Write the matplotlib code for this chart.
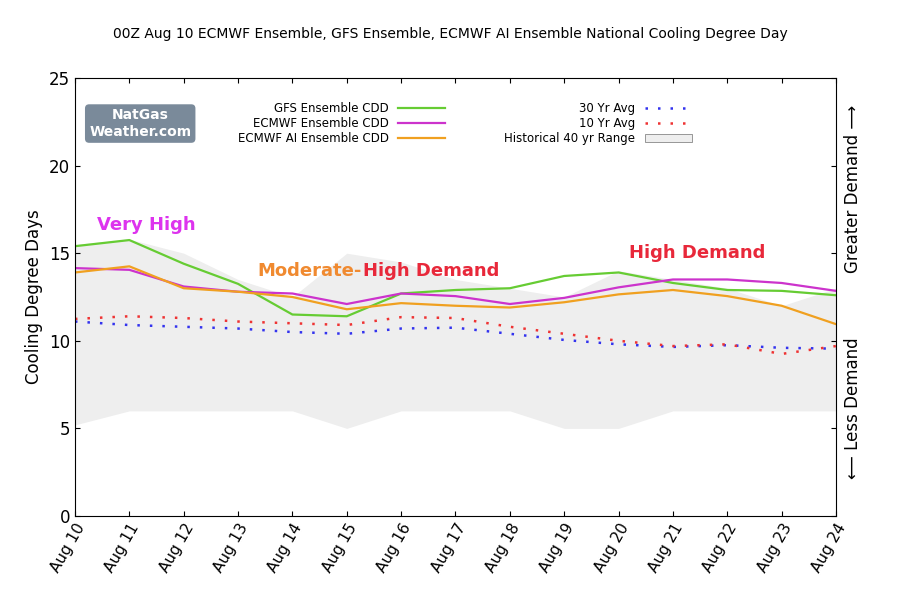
import matplotlib
matplotlib.use("Agg")
import matplotlib.pyplot as plt
import numpy as np
from matplotlib.patches import Patch

days = ["Aug 10", "Aug 11", "Aug 12", "Aug 13", "Aug 14", "Aug 15", "Aug 16", "Aug 17",
        "Aug 18", "Aug 19", "Aug 20", "Aug 21", "Aug 22", "Aug 23", "Aug 24"]
gfs = [15.4, 15.75, 14.4, 13.25, 11.5, 11.4, 12.7, 12.9, 13.0, 13.7, 13.9, 13.3, 12.9, 12.85, 12.6]
ecmwf = [14.15, 14.05, 13.1, 12.8, 12.7, 12.1, 12.7, 12.55, 12.1, 12.45, 13.05, 13.5, 13.5, 13.3, 12.85]
ai = [13.9, 14.25, 13.0, 12.8, 12.5, 11.8, 12.15, 12.0, 11.9, 12.2, 12.65, 12.9, 12.55, 12.0, 10.95]
avg30 = [11.1, 10.9, 10.8, 10.7, 10.5, 10.4, 10.7, 10.75, 10.4, 10.05, 9.8, 9.65, 9.75, 9.6, 9.55]
avg10 = [11.25, 11.4, 11.3, 11.1, 11.0, 10.9, 11.35, 11.3, 10.8, 10.4, 10.0, 9.7, 9.8, 9.25, 9.7]
hist_hi = [15.5, 15.8, 15.0, 13.5, 12.5, 15.0, 14.5, 13.5, 13.0, 12.5, 14.0, 13.5, 13.0, 12.0, 13.0]
hist_lo = [5.2, 6.0, 6.0, 6.0, 6.0, 5.0, 6.0, 6.0, 6.0, 5.0, 5.0, 6.0, 6.0, 6.0, 6.0]

x = np.arange(len(days))
fig = plt.figure(figsize=(9, 6), dpi=100)
ax = fig.add_axes([0.0833, 0.14, 0.8456, 0.73])

ax.fill_between(x, hist_lo, hist_hi, color="#eeeeee", lw=0)
l1, = ax.plot(x, gfs, color="#66cc33", lw=1.6, label="GFS Ensemble CDD")
l2, = ax.plot(x, ecmwf, color="#cc33cc", lw=1.6, label="ECMWF Ensemble CDD")
l3, = ax.plot(x, ai, color="#f0a020", lw=1.6, label="ECMWF AI Ensemble CDD")
l4, = ax.plot(x, avg30, color="#3333ee", lw=1.8, ls=(0, (1, 4)), label="30 Yr Avg")
l5, = ax.plot(x, avg10, color="#ee3333", lw=1.8, ls=(0, (1, 4)), label="10 Yr Avg")
hp = Patch(facecolor="#eeeeee", edgecolor="#888888", lw=0.6, label="Historical 40 yr Range")

leg1 = ax.legend(handles=[l1, l2, l3], loc="upper left", bbox_to_anchor=(0.2, 0.97),
                 frameon=False, markerfirst=False, fontsize=8.5, handlelength=4, labelspacing=0.2)
ax.add_artist(leg1)
ax.legend(handles=[l4, l5, hp], loc="upper left", bbox_to_anchor=(0.55, 0.97),
          frameon=False, markerfirst=False, fontsize=8.5, handlelength=4, labelspacing=0.2)

ax.set_xlim(0, len(days) - 1)
ax.set_ylim(0, 25)
ax.set_yticks([0, 5, 10, 15, 20, 25])
ax.set_xticks(x)
ax.set_xticklabels(days, rotation=60, ha="right", rotation_mode="anchor", fontsize=11)
ax.tick_params(axis="y", labelsize=12)
ax.tick_params(direction="in", top=True, right=True)
ax.set_ylabel("Cooling Degree Days", fontsize=12)
fig.suptitle("00Z Aug 10 ECMWF Ensemble, GFS Ensemble, ECMWF AI Ensemble National Cooling Degree Day",
             y=0.955, fontsize=10)

ax.text(0.4, 16.3, "Very High", color="#dd33ee", fontsize=13, fontweight="bold")
ax.text(3.35, 13.7, "Moderate-", color="#f08a30", fontsize=13, fontweight="bold")
ax.text(5.3, 13.7, "High Demand", color="#e8283a", fontsize=13, fontweight="bold")
ax.text(10.2, 14.7, "High Demand", color="#e8283a", fontsize=13, fontweight="bold")

fig.text(0.948, 0.685, "Greater Demand \u27f6", rotation=90, ha="center", va="center", fontsize=12)
fig.text(0.948, 0.32, "\u27f5 Less Demand", rotation=90, ha="center", va="center", fontsize=12)

ax.text(1.2, 22.4, "NatGas\nWeather.com", ha="center", va="center", fontsize=10,
        fontweight="bold", color="white",
        bbox=dict(boxstyle="round,pad=0.3", fc="#7a8a9a", ec="none"))

fig.savefig("out.png", dpi=100)
